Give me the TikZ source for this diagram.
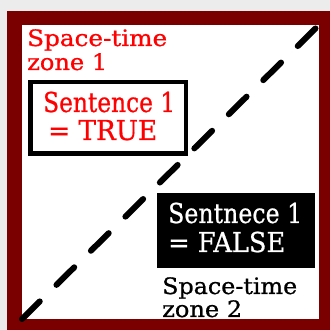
\documentclass[tikz,border=0pt]{standalone}
\usepackage{fontspec}
\usepackage{graphicx}
\setmainfont{DejaVu Serif}[FakeBold=0.8]
\definecolor{framered}{HTML}{7A0000}
\definecolor{bggrey}{HTML}{ECECEC}
\definecolor{txtred}{HTML}{FF0000}
\newcommand{\fw}[2]{\resizebox{#1pt}{\height}{#2}}
\tikzset{
  lbl/.style={inner sep=0pt, anchor=base west, align=left, font=\fontsize{22.6}{24}\selectfont},
  boxtxt/.style={inner sep=0pt, anchor=base west, align=left, font=\fontsize{27.4}{28}\selectfont},
  truebox/.style={draw=black, fill=white, line width=4.5pt, inner sep=0pt, minimum width=155.5pt, minimum height=71.5pt},
  falsebox/.style={fill=black, inner sep=0pt, minimum width=158pt, minimum height=75pt},
  divider/.style={line width=6pt, line cap=round, dash pattern=on 25pt off 23.5pt}
}
\begin{document}
\begin{tikzpicture}[x=1pt,y=1pt]
\useasboundingbox (0,0) rectangle (330,330);
\fill[bggrey] (0,0) rectangle (330,330);
\fill[framered] (7,0) rectangle (330,319);
\fill[white] (22,11) rectangle (319,305);
\coordinate (bl) at (22,11);
\coordinate (tr) at (319,305);
\draw[divider] (bl) -- (tr);
\node[truebox] (b1) at (108,212) {};
\node[falsebox] (b2) at (236,99.5) {};
\node[lbl, text=txtred] (z1) at (27,260) {\fw{140}{Space-time}\\\fw{80}{zone 1}};
\node[boxtxt, text=txtred] (s1) at (43,190) {\fw{132}{Sentence 1}\\\hspace*{5pt}\fw{109}{= TRUE}};
\node[boxtxt, text=white, font=\fontsize{27.4}{29}\selectfont] (s2) at (168,78) {\fw{134}{Sentnece 1}\\\fw{117}{= FALSE}};
\node[lbl, text=black, font=\fontsize{22.6}{23}\selectfont] (z2) at (162,13) {\fw{135}{Space-time}\\\fw{80}{zone 2}};
\end{tikzpicture}
\end{document}
